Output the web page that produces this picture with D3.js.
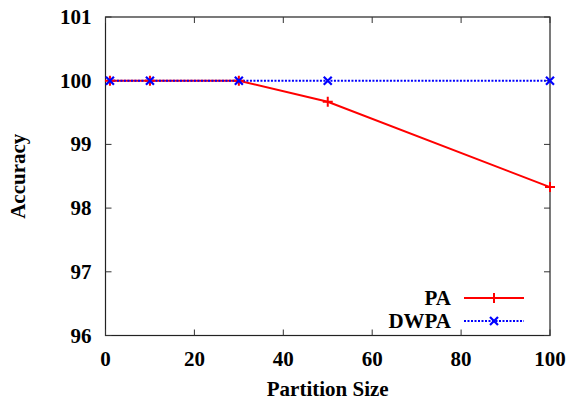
<!DOCTYPE html>
<html><head><meta charset="utf-8">
<script src="https://cdn.jsdelivr.net/npm/d3@7"></script>
<style>body{margin:0;background:#fff}svg{display:block}text{font-family:"Liberation Serif","Times New Roman",serif;font-weight:bold}</style>
</head><body><svg id="c" width="572" height="401"></svg>
<script>
const xValues = [1, 10, 30, 50, 100];
const paValues = [100, 100, 100, 99.67, 98.33];
const dwpaValues = [100, 100, 100, 100, 100];
const xTicks = [0, 20, 40, 60, 80, 100];
const yTicks = [96, 97, 98, 99, 100, 101];
const seriesNames = ["PA", "DWPA"];

const svg = d3.select("#c");
const L = 105.5, R = 550, T = 17, B = 335.5;
const x = d3.scaleLinear().domain([0, 100]).range([L, R]);
const y = d3.scaleLinear().domain([96, 101]).range([B, T]);

svg.append("rect").attr("x", L).attr("y", T).attr("width", R - L).attr("height", B - T)
  .attr("fill", "none").attr("stroke", "#222").attr("stroke-width", 1.2);

const tl = 6;
const g = svg.append("g").attr("stroke", "#333").attr("stroke-width", 1);
xTicks.forEach(t => {
  g.append("line").attr("x1", x(t)).attr("x2", x(t)).attr("y1", B).attr("y2", B - tl);
  g.append("line").attr("x1", x(t)).attr("x2", x(t)).attr("y1", T).attr("y2", T + tl);
});
yTicks.forEach(t => {
  g.append("line").attr("y1", y(t)).attr("y2", y(t)).attr("x1", L).attr("x2", L + tl);
  g.append("line").attr("y1", y(t)).attr("y2", y(t)).attr("x1", R).attr("x2", R - tl);
});

svg.append("g").selectAll("text").data(xTicks).join("text")
  .attr("x", d => x(d)).attr("y", B + 30).attr("text-anchor", "middle")
  .attr("font-size", 21).text(d => d);
svg.append("g").selectAll("text").data(yTicks).join("text")
  .attr("x", L - 14).attr("y", d => y(d) + 7).attr("text-anchor", "end")
  .attr("font-size", 21).text(d => d);

svg.append("text").attr("x", (L + R) / 2).attr("y", 396).attr("text-anchor", "middle")
  .attr("font-size", 21).text("Partition Size");
svg.append("text").attr("transform", `translate(25,${(T + B) / 2}) rotate(-90)`)
  .attr("text-anchor", "middle").attr("font-size", 21).text("Accuracy");

const line = d3.line().x(d => x(d[0])).y(d => y(d[1]));
const pa = xValues.map((v, i) => [v, paValues[i]]);
const dw = xValues.map((v, i) => [v, dwpaValues[i]]);

svg.append("path").datum(pa).attr("d", line).attr("fill", "none")
  .attr("stroke", "#f00").attr("stroke-width", 2);
svg.append("path").datum(dw).attr("d", line).attr("fill", "none")
  .attr("stroke", "#00f").attr("stroke-width", 2).attr("stroke-dasharray", "2,1.5");

function plus(sel, cx, cy, c) {
  const s = 5;
  sel.append("path").attr("d", `M${cx - s},${cy}H${cx + s}M${cx},${cy - s}V${cy + s}`)
    .attr("stroke", c).attr("stroke-width", 2).attr("fill", "none");
}
function cross(sel, cx, cy, c) {
  const s = 4;
  sel.append("path").attr("d", `M${cx - s},${cy - s}L${cx + s},${cy + s}M${cx - s},${cy + s}L${cx + s},${cy - s}`)
    .attr("stroke", c).attr("stroke-width", 2.2).attr("fill", "none");
}
pa.forEach(d => plus(svg, x(d[0]), y(d[1]), "#f00"));
dw.forEach(d => cross(svg, x(d[0]), y(d[1]), "#00f"));

const ly = [298, 321];
svg.append("text").attr("x", 451).attr("y", ly[0] + 7).attr("text-anchor", "end").attr("font-size", 21).text(seriesNames[0]);
svg.append("text").attr("x", 451).attr("y", ly[1] + 7).attr("text-anchor", "end").attr("font-size", 21).text(seriesNames[1]);
svg.append("line").attr("x1", 464).attr("x2", 524).attr("y1", ly[0]).attr("y2", ly[0]).attr("stroke", "#f00").attr("stroke-width", 2);
plus(svg, 494, ly[0], "#f00");
svg.append("line").attr("x1", 464).attr("x2", 524).attr("y1", ly[1]).attr("y2", ly[1]).attr("stroke", "#00f").attr("stroke-width", 2).attr("stroke-dasharray", "2,1.5");
cross(svg, 494, ly[1], "#00f");
</script></body></html>
